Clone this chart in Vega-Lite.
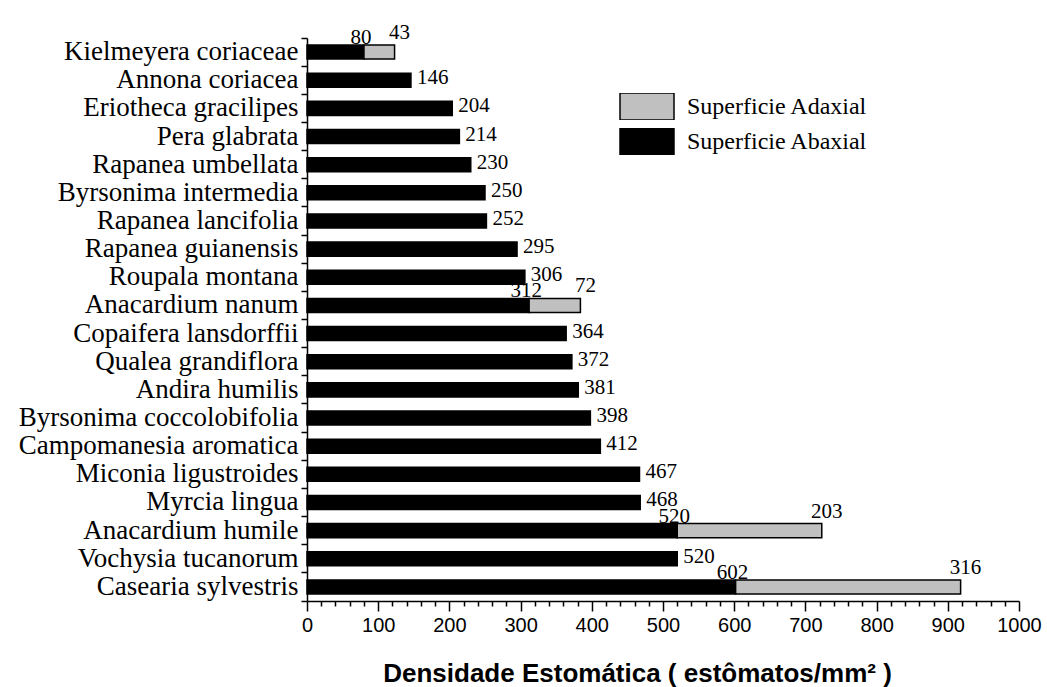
{
  "$schema": "https://vega.github.io/schema/vega-lite/v6.json",
  "autosize": "none",
  "padding": {"left": 307, "top": 38, "right": 28, "bottom": 86},
  "width": 712,
  "height": 563,
  "background": "white",
  "config": {"view": {"stroke": null}, "axis": {"labelOverlap": false, "labelFlush": false, "grid": false}},
  "data": {"values": [
    {"species": "Kielmeyera coriaceae", "surface": "Superficie Abaxial", "value": 80},
    {"species": "Annona coriacea", "surface": "Superficie Abaxial", "value": 146},
    {"species": "Eriotheca gracilipes", "surface": "Superficie Abaxial", "value": 204},
    {"species": "Pera glabrata", "surface": "Superficie Abaxial", "value": 214},
    {"species": "Rapanea umbellata", "surface": "Superficie Abaxial", "value": 230},
    {"species": "Byrsonima intermedia", "surface": "Superficie Abaxial", "value": 250},
    {"species": "Rapanea lancifolia", "surface": "Superficie Abaxial", "value": 252},
    {"species": "Rapanea guianensis", "surface": "Superficie Abaxial", "value": 295},
    {"species": "Roupala montana", "surface": "Superficie Abaxial", "value": 306},
    {"species": "Anacardium nanum", "surface": "Superficie Abaxial", "value": 312},
    {"species": "Copaifera lansdorffii", "surface": "Superficie Abaxial", "value": 364},
    {"species": "Qualea grandiflora", "surface": "Superficie Abaxial", "value": 372},
    {"species": "Andira humilis", "surface": "Superficie Abaxial", "value": 381},
    {"species": "Byrsonima coccolobifolia", "surface": "Superficie Abaxial", "value": 398},
    {"species": "Campomanesia aromatica", "surface": "Superficie Abaxial", "value": 412},
    {"species": "Miconia ligustroides", "surface": "Superficie Abaxial", "value": 467},
    {"species": "Myrcia lingua", "surface": "Superficie Abaxial", "value": 468},
    {"species": "Anacardium humile", "surface": "Superficie Abaxial", "value": 520},
    {"species": "Vochysia tucanorum", "surface": "Superficie Abaxial", "value": 520},
    {"species": "Casearia sylvestris", "surface": "Superficie Abaxial", "value": 602},
    {"species": "Kielmeyera coriaceae", "surface": "Superficie Adaxial", "value": 43},
    {"species": "Anacardium nanum", "surface": "Superficie Adaxial", "value": 72},
    {"species": "Anacardium humile", "surface": "Superficie Adaxial", "value": 203},
    {"species": "Casearia sylvestris", "surface": "Superficie Adaxial", "value": 316}
  ]},
  "transform": [
    {"joinaggregate": [{"op": "count", "as": "n"}, {"op": "sum", "field": "value", "as": "total"}], "groupby": ["species"]}
  ],
  "encoding": {
    "y": {
      "field": "species", "type": "nominal",
      "scale": {
        "domain": ["Kielmeyera coriaceae", "Annona coriacea", "Eriotheca gracilipes", "Pera glabrata", "Rapanea umbellata", "Byrsonima intermedia", "Rapanea lancifolia", "Rapanea guianensis", "Roupala montana", "Anacardium nanum", "Copaifera lansdorffii", "Qualea grandiflora", "Andira humilis", "Byrsonima coccolobifolia", "Campomanesia aromatica", "Miconia ligustroides", "Myrcia lingua", "Anacardium humile", "Vochysia tucanorum", "Casearia sylvestris"],
        "paddingInner": 0, "paddingOuter": 0
      },
      "axis": {
        "title": null,
        "bandPosition": 1,
        "tickExtra": true,
        "labelOffset": 0,
        "tickSize": 6,
        "tickWidth": 1.5,
        "tickColor": "black",
        "domainColor": "black",
        "domainWidth": 1.5,
        "labelPadding": 3,
        "labelFont": "Liberation Serif",
        "labelFontSize": 27,
        "labelColor": "black",
        "labelLimit": 400
      }
    },
    "x": {
      "field": "value", "type": "quantitative",
      "scale": {"domain": [0, 1000], "nice": false},
      "axis": {
        "values": [0, 20, 40, 60, 80, 100, 120, 140, 160, 180, 200, 220, 240, 260, 280, 300, 320, 340, 360, 380, 400, 420, 440, 460, 480, 500, 520, 540, 560, 580, 600, 620, 640, 660, 680, 700, 720, 740, 760, 780, 800, 820, 840, 860, 880, 900, 920, 940, 960, 980, 1000],
        "labelExpr": "datum.value % 100 === 0 ? '' + datum.value : ''",
        "labelOverlap": false,
        "labelFlush": false,
        "labelBound": false,
        "grid": false,
        "tickSize": {"condition": {"test": "datum.value % 100 === 0", "value": 10}, "value": 5},
        "tickWidth": 1.5,
        "tickColor": "black",
        "domainColor": "black",
        "domainWidth": 1.5,
        "labelPadding": 4,
        "labelFont": "Liberation Sans",
        "labelFontSize": 20,
        "labelColor": "black",
        "title": "Densidade Estomática ( estômatos/mm² )",
        "titleFont": "Liberation Sans",
        "titleFontWeight": "bold",
        "titleFontSize": 26,
        "titleColor": "black",
        "titleX": 330,
        "titleY": 80,
        "titleBaseline": "alphabetic"
      }
    }
  },
  "layer": [
    {
      "mark": {"type": "bar", "height": {"band": 0.5}, "stroke": "black", "strokeWidth": 1.5},
      "encoding": {
        "x": {
          "field": "value", "type": "quantitative", "stack": "zero",
          "scale": {"domain": [0, 1000], "nice": false},
          "axis": {
            "values": [0, 20, 40, 60, 80, 100, 120, 140, 160, 180, 200, 220, 240, 260, 280, 300, 320, 340, 360, 380, 400, 420, 440, 460, 480, 500, 520, 540, 560, 580, 600, 620, 640, 660, 680, 700, 720, 740, 760, 780, 800, 820, 840, 860, 880, 900, 920, 940, 960, 980, 1000],
            "labelExpr": "datum.value % 100 === 0 ? '' + datum.value : ''",
            "labelOverlap": false,
            "labelFlush": false,
            "labelBound": false,
            "grid": false,
            "tickSize": {"condition": {"test": "datum.value % 100 === 0", "value": 10}, "value": 5},
            "tickWidth": 1.5,
            "tickColor": "black",
            "domainColor": "black",
            "domainWidth": 1.5,
            "labelPadding": 4,
            "labelFont": "Liberation Sans",
            "labelFontSize": 20,
            "labelColor": "black",
            "title": "Densidade Estomática ( estômatos/mm² )",
            "titleFont": "Liberation Sans",
            "titleFontWeight": "bold",
            "titleFontSize": 26,
            "titleColor": "black",
            "titleX": 330,
            "titleY": 80,
            "titleBaseline": "alphabetic"
          }
        },
        "color": {
          "field": "surface", "type": "nominal",
          "scale": {"domain": ["Superficie Adaxial", "Superficie Abaxial"], "range": ["#c0c0c0", "#000000"]},
          "legend": {
            "title": null,
            "orient": "none",
            "legendX": 312,
            "legendY": 55,
            "padding": 0,
            "symbolType": "M-1,-0.5H1V0.5H-1Z",
            "symbolSize": 2916,
            "symbolStrokeColor": "black",
            "symbolStrokeWidth": 1.5,
            "clipHeight": 27,
            "rowPadding": 8,
            "labelOffset": 12,
            "labelFont": "Liberation Serif",
            "labelFontSize": 24,
            "labelColor": "black",
            "labelLimit": 400
          }
        },
        "order": {"field": "surface", "sort": "ascending"}
      }
    },
    {
      "transform": [{"filter": "datum.n === 1"}],
      "mark": {"type": "text", "align": "left", "baseline": "middle", "dx": 6, "dy": -2, "font": "Liberation Serif", "fontSize": 21, "color": "black"},
      "encoding": {
        "text": {"field": "value", "type": "quantitative"}
      }
    },
    {
      "transform": [{"filter": "datum.n === 2 && datum.surface === 'Superficie Abaxial'"}],
      "mark": {"type": "text", "align": "center", "baseline": "alphabetic", "dx": -3, "dy": -8, "font": "Liberation Serif", "fontSize": 21, "color": "black"},
      "encoding": {
        "text": {"field": "value", "type": "quantitative"}
      }
    },
    {
      "transform": [{"filter": "datum.n === 2 && datum.surface === 'Superficie Adaxial'"}],
      "mark": {"type": "text", "align": "center", "baseline": "alphabetic", "dx": 5, "dy": -13, "font": "Liberation Serif", "fontSize": 21, "color": "black"},
      "encoding": {
        "x": {"field": "total", "type": "quantitative"},
        "text": {"field": "value", "type": "quantitative"}
      }
    }
  ]
}
